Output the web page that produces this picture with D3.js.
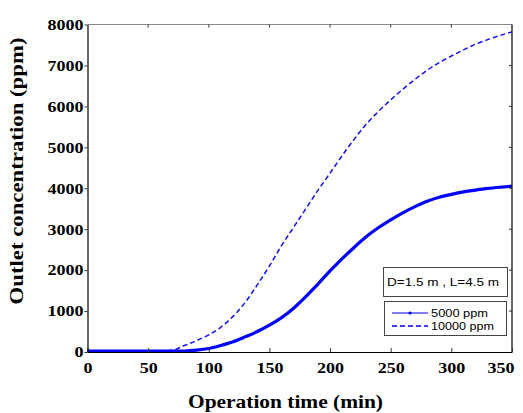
<!DOCTYPE html>
<html>
<head>
<meta charset="utf-8">
<script src="https://cdn.jsdelivr.net/npm/d3@7"></script>
<style>
  html, body { margin: 0; padding: 0; background: #fff; }
  svg { display: block; }
</style>
</head>
<body>
<svg id="chart" width="523" height="413"></svg>
<script>
// Operation time (min), sampled every 10 min
const time = [0,10,20,30,40,50,60,70,80,90,100,110,120,130,140,150,160,170,180,190,200,
              210,220,230,240,250,260,270,280,290,300,310,320,330,340,350];
// Outlet concentration (ppm) for 5000 ppm inlet
const c5000 = [20,20,20,20,20,20,20,20,24,45,85,160,250,370,500,655,840,1070,1350,1660,1980,
               2280,2560,2820,3040,3230,3400,3550,3680,3780,3850,3910,3955,3995,4025,4050];
// Outlet concentration (ppm) for 10000 ppm inlet
const c10000 = [20,20,20,20,20,20,20,45,160,280,420,610,870,1210,1640,2100,2600,3050,3500,3950,4370,
                4800,5200,5570,5880,6160,6420,6660,6880,7070,7230,7380,7520,7630,7730,7820];
const xTicks = [0,50,100,150,200,250,300,350];
const yTicks = [0,1000,2000,3000,4000,5000,6000,7000,8000];
const seriesNames = ["5000 ppm", "10000 ppm"];
const noteText = "D=1.5 m , L=4.5 m";

const svg = d3.select("#chart");
const plotLeft = 87.5, plotRight = 512, plotTop = 24.5, plotBottom = 352;

const x = d3.scaleLinear().domain([0, 350]).range([plotLeft, plotRight]);
const y = d3.scaleLinear().domain([0, 8000]).range([plotBottom, plotTop]);

const serif = "'Liberation Serif', 'Times New Roman', serif";
const sans = "'Liberation Sans', Arial, sans-serif";
const fmt = d3.format("d");

// Curves
const line = d3.line().x((d, i) => x(time[i])).y(d => y(d)).curve(d3.curveMonotoneX);

svg.append("path")
  .datum(c10000)
  .attr("d", line)
  .attr("fill", "none")
  .attr("stroke", "#1010ff")
  .attr("stroke-width", 1.5)
  .attr("stroke-dasharray", "5,3");

svg.append("path")
  .datum(c5000)
  .attr("d", line)
  .attr("fill", "none")
  .attr("stroke", "#0000ff")
  .attr("stroke-width", 3.2);

// Frame
svg.append("line").attr("x1", plotLeft).attr("x2", plotRight).attr("y1", plotTop).attr("y2", plotTop)
  .attr("stroke", "#888").attr("stroke-width", 1.2);
svg.append("line").attr("x1", plotRight).attr("x2", plotRight).attr("y1", plotTop).attr("y2", plotBottom)
  .attr("stroke", "#000").attr("stroke-width", 1.2);

// Bottom axis (inward ticks)
const xAxis = svg.append("g").attr("transform", `translate(0,${plotBottom})`)
  .call(d3.axisBottom(x).tickValues(xTicks).tickFormat(fmt).tickSizeInner(-4).tickSizeOuter(0));
xAxis.attr("font-family", null).attr("font-size", null);
xAxis.select(".domain").attr("stroke", "#000").attr("stroke-width", 1.2);
xAxis.selectAll(".tick line").attr("stroke", "#333");
xAxis.selectAll("text")
  .style("font-family", serif).style("font-weight", "bold").style("font-size", "15px")
  .attr("fill", "#000")
  .attr("textLength", d => fmt(d).length * 9)
  .attr("lengthAdjust", "spacingAndGlyphs")
  .attr("dy", "0.71em")
  .attr("y", 10);
xAxis.selectAll(".tick").filter(d => d === 350).select("text")
  .attr("text-anchor", "end").attr("x", 2);

// Top ticks (inward)
svg.append("g").selectAll("line").data(xTicks.slice(1, -1)).join("line")
  .attr("x1", d => x(d)).attr("x2", d => x(d)).attr("y1", plotTop).attr("y2", plotTop + 3)
  .attr("stroke", "#333");

// Left axis (outward ticks)
const yAxis = svg.append("g").attr("transform", `translate(${plotLeft},0)`)
  .call(d3.axisLeft(y).tickValues(yTicks).tickFormat(fmt).tickSizeInner(3).tickSizeOuter(0).tickPadding(1));
yAxis.attr("font-family", null).attr("font-size", null);
yAxis.select(".domain").attr("stroke", "#000").attr("stroke-width", 1.2);
yAxis.selectAll(".tick line").attr("stroke", "#333");
yAxis.selectAll("text")
  .style("font-family", serif).style("font-weight", "bold").style("font-size", "15px")
  .attr("fill", "#000")
  .attr("textLength", d => fmt(d).length * 9)
  .attr("lengthAdjust", "spacingAndGlyphs");

// Right ticks (inward)
svg.append("g").selectAll("line").data(yTicks.slice(1, -1)).join("line")
  .attr("x1", plotRight - 3).attr("x2", plotRight).attr("y1", d => y(d)).attr("y2", d => y(d))
  .attr("stroke", "#333");

// Axis titles
svg.append("text")
  .attr("x", 285.5).attr("y", 408)
  .attr("text-anchor", "middle")
  .style("font-family", serif).style("font-weight", "bold").style("font-size", "18px")
  .attr("textLength", 195).attr("lengthAdjust", "spacingAndGlyphs")
  .text("Operation time (min)");

svg.append("text")
  .attr("transform", "translate(23,171) rotate(-90)")
  .attr("text-anchor", "middle")
  .style("font-family", serif).style("font-weight", "bold").style("font-size", "18px")
  .attr("textLength", 267).attr("lengthAdjust", "spacingAndGlyphs")
  .text("Outlet concentration (ppm)");

// Parameter note box
svg.append("rect")
  .attr("x", 383.5).attr("y", 267.5).attr("width", 124).attr("height", 29)
  .attr("fill", "#fff").attr("stroke", "#444").attr("stroke-width", 1);
svg.append("text")
  .attr("x", 443).attr("y", 286)
  .attr("text-anchor", "middle")
  .style("font-family", sans).style("font-size", "11.5px")
  .attr("textLength", 112).attr("lengthAdjust", "spacingAndGlyphs")
  .text(noteText);

// Legend
svg.append("rect")
  .attr("x", 384.5).attr("y", 301.5).attr("width", 122).attr("height", 34)
  .attr("fill", "#fff").attr("stroke", "#444").attr("stroke-width", 1);

const legend = svg.append("g");
const legY = [313, 326];
legend.append("line").attr("x1", 392).attr("x2", 428).attr("y1", legY[0]).attr("y2", legY[0])
  .attr("stroke", "#0000ff").attr("stroke-width", 1);
legend.append("circle").attr("cx", 410).attr("cy", legY[0]).attr("r", 1.6).attr("fill", "#0000ff");
legend.append("line").attr("x1", 392).attr("x2", 428).attr("y1", legY[1]).attr("y2", legY[1])
  .attr("stroke", "#0000ff").attr("stroke-width", 1.5).attr("stroke-dasharray", "5,3");
legend.selectAll("text").data(seriesNames).join("text")
  .attr("x", 431).attr("y", (d, i) => legY[i] + 4)
  .style("font-family", sans).style("font-size", "11.5px")
  .attr("textLength", d => d.length === 8 ? 57 : 63).attr("lengthAdjust", "spacingAndGlyphs")
  .text(d => d);
</script>
</body>
</html>
